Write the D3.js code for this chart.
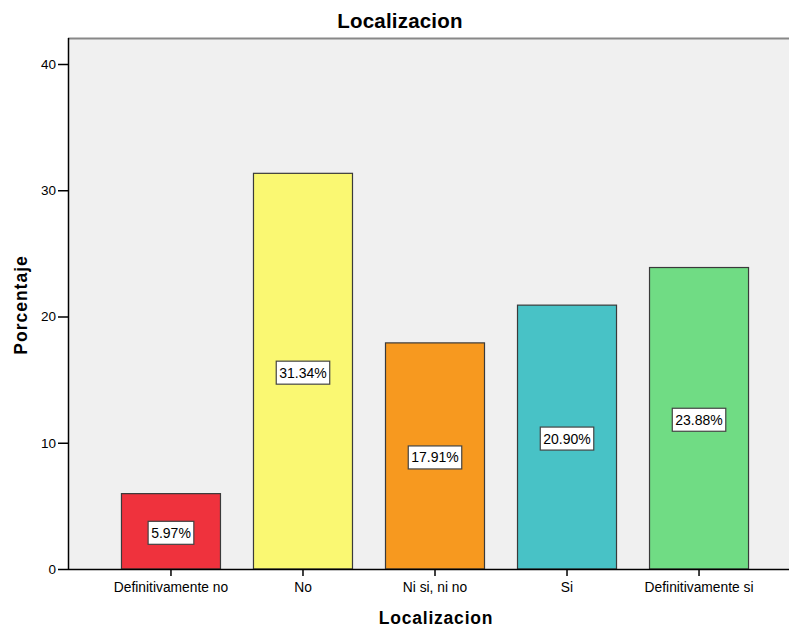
<!DOCTYPE html>
<html>
<head>
<meta charset="utf-8">
<script src="https://cdn.jsdelivr.net/npm/d3@7"></script>
<style>
  body { margin: 0; background: #fff; }
  text { font-family: "Liberation Sans", Arial, sans-serif; fill: #000; }
</style>
</head>
<body>
<div id="chart"></div>
<script>
// data
const categories = ["Definitivamente no", "No", "Ni si, ni no", "Si", "Definitivamente si"];
const values = [5.97, 31.34, 17.91, 20.90, 23.88];
const barColors = ["#ef323d", "#faf872", "#f7991f", "#48c2c6", "#70dc84"];
const yTicks = [0, 10, 20, 30, 40];

const W = 789, H = 628;
const margin = {top: 38, right: -13, bottom: 59, left: 68};
const width = W - margin.left - margin.right;
const height = H - margin.top - margin.bottom;

const svg = d3.select("#chart").append("svg")
    .attr("width", W)
    .attr("height", H);

const g = svg.append("g")
    .attr("transform", "translate(" + margin.left + "," + margin.top + ")");

// scales
const x = d3.scaleBand()
    .domain(categories)
    .range([0, width])
    .paddingInner(0.25)
    .paddingOuter(0.405);

// 0 sits on the axis, 40 is 505px higher
const y = d3.scaleLinear()
    .domain([0, 40])
    .range([height, height - 505]);

// plot background
g.append("rect")
    .attr("x", 0).attr("y", 0)
    .attr("width", width).attr("height", height)
    .attr("fill", "#f0f0f0");

g.append("line")
    .attr("x1", 0).attr("x2", width)
    .attr("y1", 0.5).attr("y2", 0.5)
    .attr("stroke", "#888").attr("stroke-width", 2);

// bars
g.selectAll(".bar")
    .data(values)
    .enter().append("rect")
    .attr("class", "bar")
    .attr("x", (d, i) => x(categories[i]))
    .attr("y", d => y(d))
    .attr("width", x.bandwidth())
    .attr("height", d => height - y(d))
    .attr("fill", (d, i) => barColors[i])
    .attr("stroke", "#3a3a3a")
    .attr("stroke-width", 1.2);

// value labels
const lbl = g.selectAll(".lbl")
    .data(values)
    .enter().append("g")
    .attr("class", "lbl")
    .attr("transform", (d, i) => "translate(" + (x(categories[i]) + x.bandwidth() / 2) + "," + ((y(d) + height) / 2 + 1.5) + ")");

lbl.append("text")
    .attr("text-anchor", "middle")
    .attr("dy", "0.36em")
    .style("font-size", "14px")
    .text(d => d.toFixed(2) + "%")
    .each(function() {
        const bb = this.getBBox();
        d3.select(this.parentNode).insert("rect", "text")
            .attr("x", bb.x - 3)
            .attr("y", -11.5)
            .attr("width", bb.width + 6)
            .attr("height", 23)
            .attr("fill", "#fff")
            .attr("stroke", "#444")
            .attr("stroke-width", 1.2);
    });

// axes
const yAxis = d3.axisLeft(y).tickValues(yTicks).tickSize(10).tickPadding(2);
const xAxis = d3.axisBottom(x).tickSize(7).tickPadding(6);

const yg = g.append("g").call(yAxis);
yg.select(".domain").attr("d", "M0.5," + height + "V0").attr("stroke", "#000").attr("stroke-width", 1.5);
yg.selectAll(".tick line").attr("stroke", "#000").attr("stroke-width", 1.5);
yg.selectAll(".tick text").style("font-size", "13.5px").attr("fill", "#000");

const xg = g.append("g")
    .attr("transform", "translate(0," + height + ")")
    .call(xAxis);
xg.select(".domain").attr("d", "M0,0.5H" + width).attr("stroke", "#000").attr("stroke-width", 1.5);
xg.selectAll(".tick line").attr("stroke", "#000").attr("stroke-width", 1.5);
xg.selectAll(".tick text").style("font-size", "13.8px").attr("fill", "#000");

// titles
svg.append("text")
    .attr("x", 400).attr("y", 28)
    .attr("text-anchor", "middle")
    .style("font-size", "20.5px").style("font-weight", "bold")
    .style("letter-spacing", "0.2px")
    .text("Localizacion");

svg.append("text")
    .attr("x", 436).attr("y", 624)
    .attr("text-anchor", "middle")
    .style("font-size", "17.5px").style("font-weight", "bold")
    .style("letter-spacing", "0.8px")
    .text("Localizacion");

svg.append("text")
    .attr("transform", "translate(27," + 305 + ") rotate(-90)")
    .attr("text-anchor", "middle")
    .style("font-size", "17.5px").style("font-weight", "bold")
    .style("letter-spacing", "1px")
    .text("Porcentaje");
</script>
</body>
</html>
